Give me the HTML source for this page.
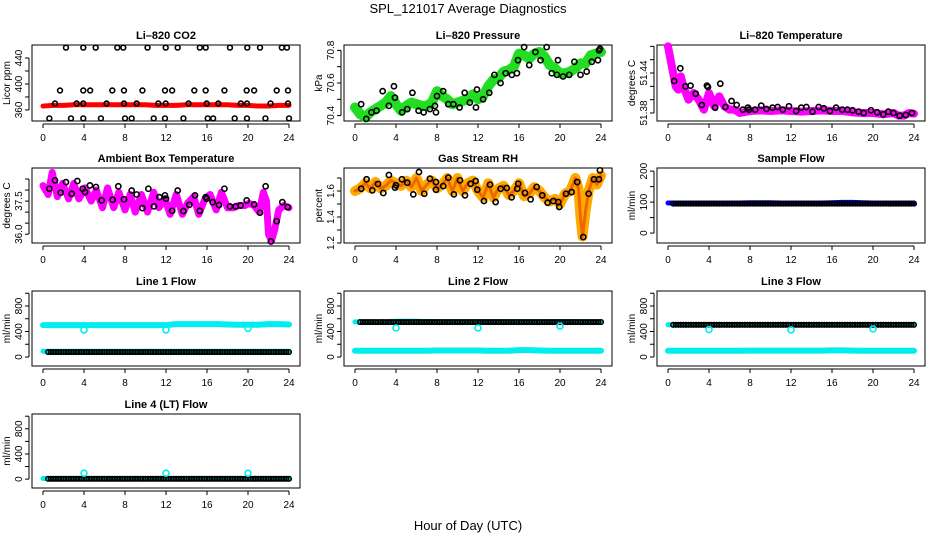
<!DOCTYPE html>
<html><head><meta charset="utf-8"><style>
body{margin:0;background:#fff}
svg{display:block;font-family:"Liberation Sans",sans-serif}
</style></head><body>
<svg id="c" width="936" height="540" viewBox="0 0 936 540">
<text x="468" y="13" text-anchor="middle" font-size="13">SPL_121017  Average Diagnostics</text>
<text x="468" y="530" text-anchor="middle" font-size="13">Hour of Day (UTC)</text>
</svg>
<script>
// ---- data ----
const xTicks=[0,4,8,12,16,20,24];
// CO2
const co2BandH=[0,1,2,3,4,5,6,7,8,9,10,11,12,13,14,15,16,17,18,19,20,21,22,23,24];
const co2BandV=[366,367,367,368,368,368,368,368,368,368,368,367,367,367,368,368,368,368,368,367,367,366,366,367,367];
const co2PtH=[2.24,3.93,5.14,7.25,7.83,10.2,11.97,13.14,15.3,15.87,18.24,19.93,21.17,23.3,23.8,1.66,3.93,4.6,6.76,7.9,9.7,11.9,12.6,14.76,15.87,17.7,19.87,20.6,22.8,23.9,1.17,3.28,3.93,6.2,7.9,9.14,11.25,11.97,14.2,15.97,17.1,19.3,19.9,22.2,23.9,0.62,2.73,3.93,5.65,8.0,8.65,10.8,11.9,13.7,16.07,16.6,18.7,19.9,21.7,24.0];
const co2PtV=[456,456,456,456,456,456,456,456,456,456,456,456,456,456,456,390,390,390,390,390,390,390,390,390,390,390,390,390,390,390,370,370,370,370,370,370,370,370,370,370,370,370,370,370,370,347,347,347,347,347,347,347,347,347,347,347,347,347,347,347];
// Pressure
const prBandH=[0,0.5,1,1.5,2,2.5,3,3.5,4,4.5,5,5.5,6,6.5,7,7.5,8,8.5,9,9.5,10,10.5,11,11.5,12,12.5,13,13.5,14,14.5,15,15.5,16,16.5,17,17.5,18,18.5,19,19.5,20,20.5,21,21.5,22,22.5,23,23.5,24];
const prBandV=[70.45,70.41,70.39,70.42,70.44,70.46,70.48,70.52,70.47,70.43,70.46,70.48,70.47,70.46,70.46,70.48,70.55,70.52,70.50,70.47,70.48,70.49,70.50,70.53,70.50,70.52,70.58,70.62,70.63,70.67,70.68,70.70,70.78,70.77,70.75,70.78,70.79,70.76,70.71,70.69,70.66,70.66,70.67,70.69,70.72,70.72,70.77,70.78,70.79];
const prPtH=[0.6,1.1,1.6,2.1,2.7,3.3,3.8,3.9,4.6,5.1,5.6,6.2,6.7,7.3,7.8,7.9,8.0,8.6,9.1,9.6,10.2,10.7,11.2,11.8,11.9,12.5,13.1,13.6,14.2,14.7,15.3,15.8,15.9,16.5,17.0,17.6,18.1,18.7,19.2,19.7,19.8,20.3,20.9,21.4,22.0,22.6,23.1,23.7,23.8,23.9];
const prPtV=[70.47,70.38,70.42,70.43,70.55,70.46,70.58,70.51,70.42,70.44,70.54,70.43,70.42,70.44,70.46,70.42,70.52,70.55,70.47,70.47,70.45,70.54,70.48,70.45,70.56,70.50,70.54,70.65,70.60,70.66,70.65,70.66,70.74,70.82,70.71,70.79,70.74,70.82,70.66,70.65,70.74,70.64,70.65,70.73,70.65,70.67,70.73,70.74,70.80,70.81];
// Li-820 temperature
const ltBandH=[0,0.25,0.5,0.75,1,1.25,1.5,1.75,2,2.5,3,3.5,4,4.5,5,5.5,6,6.5,7,8,9,10,11,12,13,14,15,16,17,18,19,20,21,22,22.5,23,23.5,24];
const ltBandV=[51.48,51.46,51.44,51.42,51.415,51.435,51.42,51.41,51.40,51.41,51.40,51.385,51.41,51.39,51.405,51.39,51.385,51.385,51.38,51.383,51.384,51.383,51.384,51.383,51.382,51.383,51.384,51.383,51.383,51.381,51.380,51.380,51.378,51.38,51.376,51.376,51.38,51.379];
const ltPtH=[0.6,1.2,1.7,2.2,2.7,3.3,3.8,3.9,4.6,5.1,5.6,6.2,6.7,7.3,7.8,7.9,8.5,9.1,9.6,10.2,10.7,11.2,11.8,12.5,13.0,13.5,14.1,14.7,15.2,15.8,16.4,17.0,17.5,18.0,18.6,19.1,19.8,20.4,21.0,21.5,22.0,22.6,23.2,23.8];
const ltPtV=[51.428,51.447,51.420,51.421,51.409,51.392,51.421,51.419,51.388,51.424,51.389,51.398,51.392,51.385,51.388,51.385,51.385,51.391,51.386,51.388,51.389,51.385,51.390,51.383,51.388,51.389,51.382,51.389,51.387,51.383,51.388,51.385,51.385,51.384,51.382,51.380,51.384,51.381,51.378,51.382,51.380,51.376,51.377,51.380];
// Ambient box temperature
const abBandH=[0,0.5,0.9,1.4,1.9,2.5,3.0,3.5,4.1,4.7,5.2,5.8,6.3,6.9,7.4,8.0,8.5,9.0,9.6,10.2,10.8,11.3,11.9,12.4,13.0,13.6,14.1,14.7,15.2,15.8,16.3,16.9,17.4,18.0,18.6,19.1,19.7,20.1,20.6,21.1,21.5,21.8,22.0,22.3,22.6,23.0,23.5,24];
const abBandV=[38.2,37.8,38.8,37.7,38.3,37.6,38.3,37.6,38.1,37.5,38.0,37.2,38.1,37.2,37.9,37.1,37.8,37.0,37.8,37.0,37.9,37.2,37.6,36.9,37.8,36.9,37.4,37.7,36.9,37.6,37.8,37.1,37.9,37.2,37.2,37.3,37.3,37.4,37.3,37.0,37.9,37.5,36.0,35.7,36.2,37.1,37.3,37.2];
const abPtH=[0.62,1.17,1.72,2.24,2.8,3.35,3.87,4.1,4.58,5.17,5.72,6.8,7.35,7.9,8.65,9.14,9.7,10.28,10.83,11.35,11.9,12.0,12.6,13.14,13.7,14.28,14.83,15.3,15.87,15.97,16.55,17.17,17.7,18.24,18.8,19.28,19.87,20.6,21.17,21.72,22.24,22.8,23.35,23.87];
const abPtV=[38.06,38.44,37.88,38.36,37.83,38.41,38.06,37.91,38.21,38.14,37.53,37.56,38.17,37.58,37.98,37.80,37.18,38.06,37.26,37.68,37.76,37.61,37.06,37.98,37.05,37.33,37.76,37.06,37.68,37.61,37.45,37.32,38.06,37.26,37.26,37.30,37.53,37.35,36.97,38.17,35.67,36.59,37.45,37.23];
// Gas stream RH
const rhBandH=[0,0.5,1,1.5,2,2.5,3,3.5,4,4.5,5,5.5,6,6.5,7,7.5,8,8.5,9,9.5,10,10.5,11,11.5,12,12.5,13,13.5,14,14.5,15,15.5,16,16.5,17,17.5,18,18.5,19,19.5,20,20.5,21,21.5,21.8,22,22.2,22.5,22.8,23.2,23.6,24];
const rhBandV=[1.6,1.62,1.66,1.62,1.67,1.62,1.64,1.68,1.66,1.64,1.68,1.63,1.7,1.6,1.65,1.68,1.62,1.65,1.7,1.6,1.7,1.6,1.66,1.68,1.6,1.55,1.66,1.55,1.62,1.64,1.57,1.6,1.66,1.56,1.58,1.63,1.6,1.55,1.52,1.54,1.5,1.58,1.6,1.7,1.62,1.4,1.25,1.45,1.6,1.7,1.65,1.72];
const rhPtH=[0.6,1.13,1.69,2.24,2.76,3.31,3.9,4.0,4.58,5.1,5.69,6.24,6.76,7.31,7.9,7.9,8.61,9.1,9.65,10.24,10.73,11.28,11.77,11.93,12.58,13.17,13.72,14.21,14.8,15.28,15.83,15.93,16.58,17.13,17.72,18.27,18.79,19.34,19.83,19.93,20.58,21.13,21.68,22.27,22.79,23.31,23.8,23.9];
const rhPtV=[1.618,1.690,1.605,1.654,1.585,1.723,1.626,1.644,1.690,1.664,1.574,1.746,1.579,1.695,1.669,1.610,1.638,1.703,1.574,1.682,1.567,1.656,1.677,1.610,1.523,1.649,1.515,1.618,1.623,1.551,1.618,1.656,1.585,1.536,1.631,1.567,1.510,1.523,1.515,1.477,1.579,1.592,1.669,1.246,1.579,1.690,1.690,1.759];
// Flows (hourly values, hour 0..24)
const flowH=[0,1,2,3,4,5,6,7,8,9,10,11,12,13,14,15,16,17,18,19,20,21,22,23,24];
const sfBand=[97,97,97,97,97,97,97,97,98,98,98,97,97,97,97,97,98,99,99,98,97,97,97,97,97];
const sfPts=[95,95,95,95,95,95,95,95,95,95,95,95,95,95,95,95,95,95,95,95,95,95,95,95,95];
const l1Hi=[500,500,500,500,500,500,500,500,500,500,500,500,500,515,515,515,515,515,510,505,505,505,515,515,510];
const l1Lo=[90,90,90,90,90,90,90,90,90,90,90,90,90,90,90,90,90,90,90,90,90,90,90,90,90];
const l1Blk=[78,78,78,78,78,78,78,78,78,78,78,78,78,78,78,78,78,78,78,78,78,78,78,78,78];
const l2Hi=[550,550,550,550,560,560,560,555,555,555,555,555,555,555,555,555,555,555,555,555,555,555,555,555,555];
const l2Lo=[98,98,98,98,98,98,98,98,102,102,102,102,102,98,98,98,108,108,102,98,98,98,98,98,98];
const l2Blk=[548,548,548,548,548,548,548,548,548,548,548,548,548,548,548,548,548,548,548,548,548,548,548,548,548];
const l3Hi=[505,505,505,505,505,505,505,505,505,505,505,505,505,505,505,505,505,505,505,505,505,505,505,505,505];
const l3Lo=[98,98,98,98,98,98,98,98,100,100,100,100,100,100,100,100,104,104,100,98,98,98,98,98,98];
const l3Blk=[505,505,505,505,505,505,505,505,505,505,505,505,505,505,505,505,505,505,505,505,505,505,505,505,505];
const l4Hi=[10,10,10,10,10,10,10,10,10,10,10,10,10,10,10,10,10,10,10,10,10,10,10,10,10];
const l4Blk=[5,5,5,5,5,5,5,5,5,5,5,5,5,5,5,5,5,5,5,5,5,5,5,5,5];
const l1DipH=[4,12,20], l1DipV=[425,425,450];
const l2DipH=[4,12,20], l2DipV=[455,455,485];
const l3DipH=[4,12,20], l3DipV=[430,425,440];
const l4DipH=[4,12,20], l4DipV=[95,95,95];

// ---- drawing ----
const NS='http://www.w3.org/2000/svg';
const svg=document.getElementById('c');
function mk(tag,attrs,parent){const e=document.createElementNS(NS,tag);for(const k in attrs)e.setAttribute(k,attrs[k]);(parent||svg).appendChild(e);return e;}
const colX=[43,355,668], rowY=[[45,121],[168,243],[291,366],[414,488]];
function panel(name,title,col,row,ymin,ymax,yticks,ylabels,ylab){
  const x0=colX[col], left=x0-11, right=x0+257, top=rowY[row][0], bot=rowY[row][1];
  const g=mk('g',{});
  
  
  const sx=h=>x0+h*246/24;
  const sy=v=>bot-(v-ymin)/(ymax-ymin)*(bot-top);
  const box=mk('rect',{x:left,y:top,width:right-left,height:bot-top,fill:'none',stroke:'#000','stroke-width':1},g);
  
  
  const t=mk('text',{x:(left+right)/2,y:top-6,'text-anchor':'middle','font-size':11,'font-weight':'bold'},g);t.textContent=title;
  
  
  const xa=mk('g',{},g);
  
  
  mk('line',{x1:sx(0),x2:sx(24),y1:bot+3,y2:bot+3,stroke:'#000'},xa);
  xTicks.forEach(h=>{mk('line',{x1:sx(h),x2:sx(h),y1:bot+3,y2:bot+7,stroke:'#000'},xa);
    const tt=mk('text',{x:sx(h),y:bot+20,'text-anchor':'middle','font-size':10},xa);tt.textContent=h;});
  const ya=mk('g',{},g);
  
  
  mk('line',{x1:left-3,x2:left-3,y1:sy(yticks[0]),y2:sy(yticks[yticks.length-1]),stroke:'#000'},ya);
  yticks.forEach(v=>mk('line',{x1:left-3,x2:left-7,y1:sy(v),y2:sy(v),stroke:'#000'},ya));
  ylabels.forEach(s=>{const v=parseFloat(s);const tt=mk('text',{x:left-10,y:sy(v),'text-anchor':'middle','font-size':10,transform:`rotate(-90 ${left-10} ${sy(v)})`},ya);tt.textContent=s;});
  const yl=mk('text',{x:left-22,y:(top+bot)/2,'text-anchor':'middle','font-size':10,transform:`rotate(-90 ${left-22} ${(top+bot)/2})`},g);yl.textContent=ylab;
  
  
  return {g,sx,sy};
}
function band(p,hs,vs,color,w,nm){
  const pts=hs.map((h,i)=>p.sx(h)+','+p.sy(vs[i])).join(' ');
  const l=mk('polyline',{points:pts,fill:'none',stroke:color,'stroke-width':w,'stroke-linejoin':'round','stroke-linecap':'round'},p.g);
  
  
}
function pts(p,hs,vs,color,r,nm){
  const g=mk('g',{},p.g);
  
  
  hs.forEach((h,i)=>mk('circle',{cx:p.sx(h),cy:p.sy(vs[i]),r:r,fill:'none',stroke:color,'stroke-width':1.6},g));
}
function stepPts(p,vals,color,nm,start){
  const g=mk('g',{},p.g);
  
  
  for(let i=0;i<vals.length-1;i++){for(let k=0;k<4;k++){const h=flowH[i]+k*0.25+(start||0);if(h>24)continue;
    mk('circle',{cx:p.sx(h),cy:p.sy(vals[i]),r:2.3,fill:'none',stroke:color,'stroke-width':1.5},g);}}
}

let p=panel('co2','Li\u2013820 CO2',0,0,343,460,[360,380,400,420,440],['360','400','440'],'Licor ppm');
band(p,co2BandH,co2BandV,'#ff0000',5,'co2-red-series');
pts(p,co2PtH,co2PtV,'#000',2.4,'co2-black-points');

p=panel('pressure','Li\u2013820 Pressure',1,0,70.367,70.833,[70.4,70.5,70.6,70.7,70.8],['70.4','70.6','70.8'],'kPa');
band(p,prBandH,prBandV,'#22dd22',10,'pressure-green-series');
pts(p,prPtH,prPtV,'#000',2.6,'pressure-black-points');

p=panel('li-temp','Li\u2013820 Temperature',2,0,51.368,51.482,[51.38,51.40,51.42,51.44,51.46,51.48],['51.38','51.44'],'degrees C');
band(p,ltBandH,ltBandV,'#ff00ff',8,'li-temp-magenta-series');
pts(p,ltPtH,ltPtV,'#000',2.6,'li-temp-black-points');

p=panel('ambient','Ambient Box Temperature',0,1,35.6,39.0,[36.0,36.5,37.0,37.5,38.0,38.5],['36.0','37.5'],'degrees C');
band(p,abBandH,abBandV,'#ff00ff',7,'ambient-magenta-series');
pts(p,abPtH,abPtV,'#000',2.6,'ambient-black-points');

p=panel('rh','Gas Stream RH',1,1,1.2,1.777,[1.2,1.3,1.4,1.5,1.6,1.7],['1.2','1.4','1.6'],'percent');
band(p,rhBandH,rhBandV,'#ffaa00',10,'rh-orange-series');
band(p,rhBandH,rhBandV,'#ee6600',3,'rh-red-core');
pts(p,rhPtH,rhPtV,'#000',2.6,'rh-black-points');

p=panel('sample-flow','Sample Flow',2,1,-32,210,[0,50,100,150,200],['0','100','200'],'ml/min');
band(p,flowH,sfBand,'#0000ff',5,'sample-flow-blue-series');
stepPts(p,sfPts,'#000','sample-flow-black-points',0.5);

const fT=[0,200,400,600,800,1000], fL=['0','400','800'];
p=panel('line1','Line 1 Flow',0,2,-141,1035,fT,fL,'ml/min');
band(p,flowH,l1Hi,'#00eeee',6,'line1-cyan-high');
band(p,flowH,l1Lo,'#00eeee',5,'line1-cyan-low');
stepPts(p,l1Blk,'#000','line1-black-points',0.5);
pts(p,l1DipH,l1DipV,'#00eeee',3,'line1-cyan-dips');

p=panel('line2','Line 2 Flow',1,2,-141,1035,fT,fL,'ml/min');
band(p,flowH,l2Lo,'#00eeee',6,'line2-cyan-low');
band(p,flowH,l2Hi,'#00eeee',5,'line2-cyan-high');
stepPts(p,l2Blk,'#000','line2-black-points',0.5);
pts(p,l2DipH,l2DipV,'#00eeee',3,'line2-cyan-dips');

p=panel('line3','Line 3 Flow',2,2,-141,1035,fT,fL,'ml/min');
band(p,flowH,l3Lo,'#00eeee',6,'line3-cyan-low');
band(p,flowH,l3Hi,'#00eeee',5,'line3-cyan-high');
stepPts(p,l3Blk,'#000','line3-black-points',0.5);
pts(p,l3DipH,l3DipV,'#00eeee',3,'line3-cyan-dips');

p=panel('line4','Line 4 (LT) Flow',0,3,-141,1035,fT,fL,'ml/min');
band(p,flowH,l4Hi,'#00eeee',5,'line4-cyan-series');
stepPts(p,l4Blk,'#000','line4-black-points',0.5);
pts(p,l4DipH,l4DipV,'#00eeee',3,'line4-cyan-bumps');
</script>
</body></html>
